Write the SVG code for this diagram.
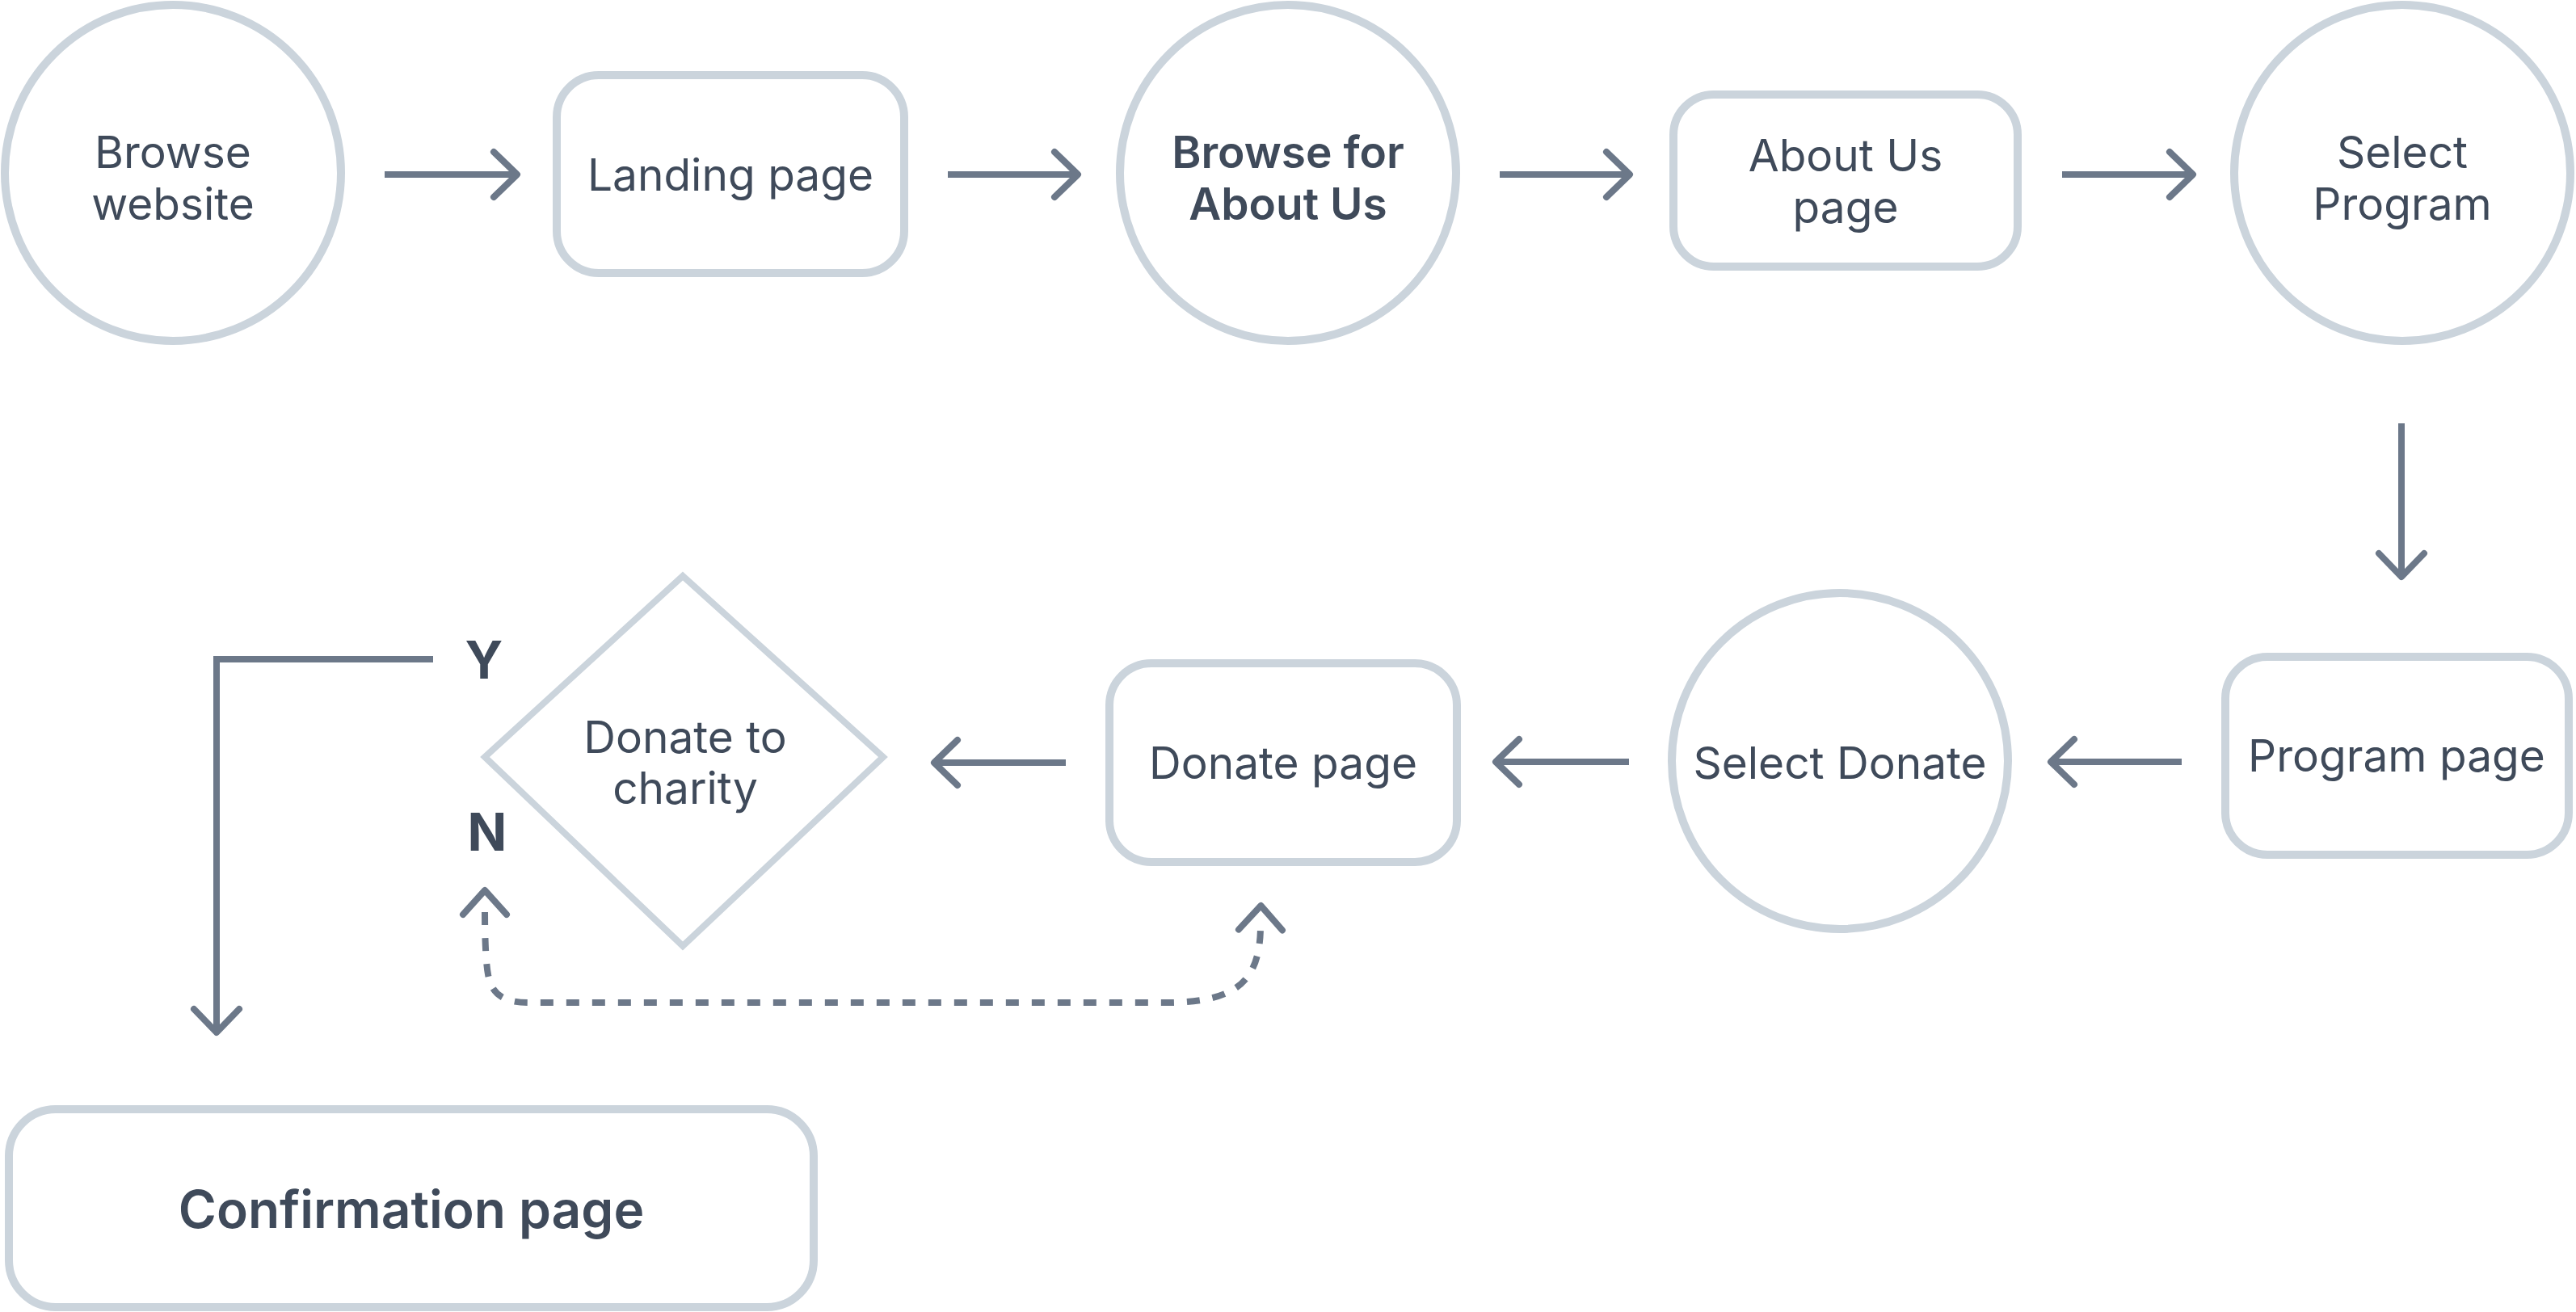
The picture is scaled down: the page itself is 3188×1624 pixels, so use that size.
<svg xmlns="http://www.w3.org/2000/svg" width="3188" height="1624" viewBox="0 0 3188 1624">
<defs>
<style>
.node{fill:#ffffff;stroke:#cbd4dc;stroke-width:10}
.dia{fill:#ffffff;stroke:#cbd4dc;stroke-width:8}
.t{font-family:Inter,"Liberation Sans",Arial,sans-serif;font-size:55px;fill:#3f4a5a;text-anchor:middle}
.b{font-weight:600}
.lbl{font-family:Inter,"Liberation Sans",Arial,sans-serif;font-size:64px;font-weight:700;fill:#3f4a5a;text-anchor:middle}
.big{font-size:64px;font-weight:600}
.edge{fill:none;stroke:#6c7889;stroke-width:8;stroke-linecap:butt;stroke-linejoin:miter}
.dash{fill:none;stroke:#6c7889;stroke-width:8;stroke-dasharray:16 16}
</style>
<marker id="arr" markerUnits="userSpaceOnUse" viewBox="-40 -40 80 80" markerWidth="80" markerHeight="80" refX="0" refY="0" orient="auto" overflow="visible">
<path d="M-29,-28 L0,0 L-29,28" fill="none" stroke="#6c7889" stroke-width="8" stroke-linecap="round" stroke-linejoin="round"/>
</marker>
<marker id="darr" markerUnits="userSpaceOnUse" viewBox="-40 -40 80 80" markerWidth="80" markerHeight="80" refX="0" refY="0" orient="auto-start-reverse" overflow="visible">
<path d="M-3,-27 L27,0 L-3,27" fill="none" stroke="#6c7889" stroke-width="8" stroke-linecap="round" stroke-linejoin="round" stroke-dasharray="none"/>
</marker>
</defs>
<rect width="3188" height="1624" fill="#ffffff"/>

<g id="connectors">
<path class="edge" d="M476,216 H640" marker-end="url(#arr)"/>
<path class="edge" d="M1173,216 H1334" marker-end="url(#arr)"/>
<path class="edge" d="M1856,216 H2017" marker-end="url(#arr)"/>
<path class="edge" d="M2552,216 H2714" marker-end="url(#arr)"/>
<path class="edge" d="M2972,524 V714" marker-end="url(#arr)"/>
<path class="edge" d="M2700,943 H2538" marker-end="url(#arr)"/>
<path class="edge" d="M2016,943 H1851" marker-end="url(#arr)"/>
<path class="edge" d="M1319,944 H1156" marker-end="url(#arr)"/>
<path class="edge" d="M536,816 H268 V1278" marker-end="url(#arr)"/>
<path class="dash" d="M600,1129 C600,1170 602,1196 604,1206 C608,1232 625,1241 655,1241 L1450,1241 C1530,1239 1559,1215 1560,1148" marker-start="url(#darr)" marker-end="url(#darr)"/>
</g>

<g id="browse-website">
<circle class="node" cx="214" cy="214" r="208"/>
<text class="t" x="214" y="208">Browse</text>
<text class="t" x="214" y="272">website</text>
</g>

<g id="landing-page">
<rect class="node" x="689" y="93" width="430" height="245" rx="52"/>
<text class="t" x="904" y="236">Landing page</text>
</g>

<g id="browse-about">
<circle class="node" cx="1594" cy="214" r="208"/>
<text class="t b" x="1594" y="208">Browse for</text>
<text class="t b" x="1594" y="272">About Us</text>
</g>

<g id="about-page">
<rect class="node" x="2071" y="117" width="426" height="213" rx="50"/>
<text class="t" x="2284" y="212">About Us</text>
<text class="t" x="2284" y="276">page</text>
</g>

<g id="select-program">
<circle class="node" cx="2973" cy="214" r="208"/>
<text class="t" x="2973" y="208">Select</text>
<text class="t" x="2973" y="272">Program</text>
</g>

<g id="program-page">
<rect class="node" x="2754" y="813" width="425" height="245" rx="52"/>
<text class="t" x="2966" y="955">Program page</text>
</g>

<g id="select-donate">
<circle class="node" cx="2277" cy="942" r="208"/>
<text class="t" x="2277" y="964">Select Donate</text>
</g>

<g id="donate-page">
<rect class="node" x="1373" y="821" width="430" height="246" rx="52"/>
<text class="t" x="1588" y="964">Donate page</text>
</g>

<g id="donate-decision">
<polygon class="dia" points="845,713 1093,937 845,1171 600,937"/>
<text class="t" x="848" y="932">Donate to</text>
<text class="t" x="848" y="995">charity</text>
<text class="lbl" x="599" y="840">Y</text>
<text class="lbl" x="603" y="1053">N</text>
</g>

<g id="confirmation-page">
<rect class="node" x="11" y="1373" width="996" height="245" rx="58"/>
<text class="t big" x="509" y="1520">Confirmation page</text>
</g>
</svg>
